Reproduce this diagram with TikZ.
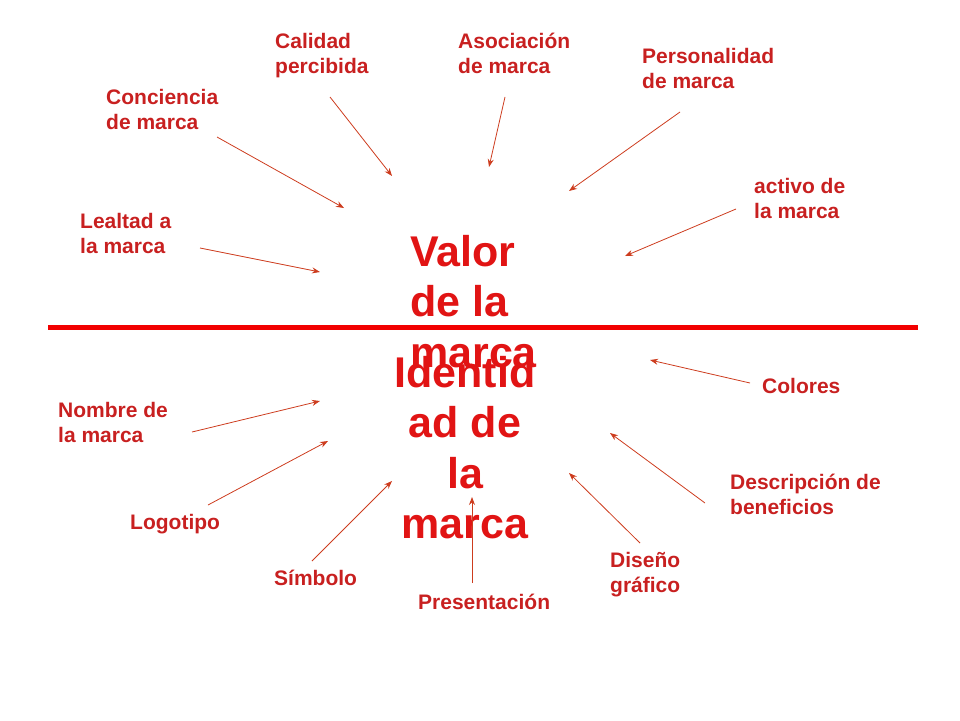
\documentclass[tikz,border=0pt]{standalone}
\usepackage{fontspec}
\setmainfont{Liberation Sans}
\usetikzlibrary{arrows.meta}
\definecolor{lab}{RGB}{200,32,32}
\definecolor{big}{RGB}{225,20,20}
\definecolor{arr}{RGB}{205,60,30}
\begin{document}
\begin{tikzpicture}[x=1pt,y=-1pt,
  lbl/.style={anchor=north west,align=left,text=lab,font=\bfseries\fontsize{21}{25}\selectfont,inner sep=0pt},
  bigt/.style={text=big,font=\bfseries\fontsize{43}{50.5}\selectfont,inner sep=0pt},
  conn/.style={draw=arr,line width=0.8pt,-{Stealth[length=8pt,width=6pt]}}]
\useasboundingbox (0,0) rectangle (960,720);
\draw[line width=5pt,red!95!black] (48,327) -- (918,327);
\node[bigt,anchor=north west,align=left] (valor) at (410,235) {Valor\\de la\\marca};
\node[bigt,anchor=north,align=center] (ident) at (465,356) {Identid\\ad de\\la\\marca};
\node[lbl] (cal) at (275,33) {Calidad\\percibida};
\node[lbl] (aso) at (458,33) {Asociación\\de marca};
\node[lbl] (per) at (642,48) {Personalidad\\de marca};
\node[lbl] (con) at (106,89) {Conciencia\\de marca};
\node[lbl] (act) at (754,178) {activo de\\la marca};
\node[lbl] (lea) at (80,213) {Lealtad a\\la marca};
\node[lbl] (col) at (762,378) {Colores};
\node[lbl] (nom) at (58,402) {Nombre de\\la marca};
\node[lbl] (des) at (730,474) {Descripción de\\beneficios};
\node[lbl] (log) at (130,514) {Logotipo};
\node[lbl] (dis) at (610,552) {Diseño\\gráfico};
\node[lbl] (sim) at (274,570) {Símbolo};
\node[lbl] (pre) at (418,594) {Presentación};
\foreach \n/\a/\b in {cal/{330,97}/{392,176}, aso/{505,97}/{489,167}, per/{680,112}/{569,191},
  con/{217,137}/{344,208}, act/{736,209}/{625,256}, lea/{200,248}/{320,272},
  col/{750,383}/{650,360}, nom/{192,432}/{320,401}, des/{705,503}/{610,433},
  log/{208,505}/{328,441}, dis/{640,543}/{569,473}, sim/{312,561}/{392,481},
  pre/{472,583}/{472,497}}{
  \coordinate (\n-t) at (\a);
  \coordinate (\n-h) at (\b);
  \draw[conn] (\n-t) -- (\n-h);
}
\end{tikzpicture}
\end{document}
